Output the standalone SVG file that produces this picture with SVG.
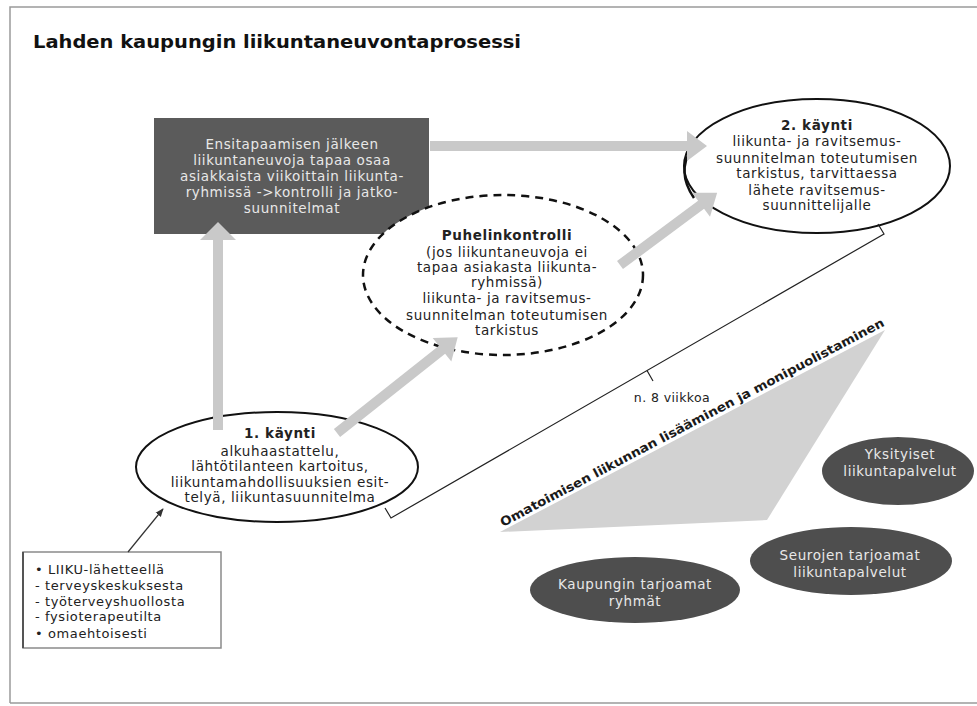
<svg xmlns="http://www.w3.org/2000/svg" width="977" height="706" viewBox="0 0 977 706">
<style>
.t{font-family:"DejaVu Sans",Verdana,sans-serif;font-size:13.5px;fill:#222;text-anchor:middle;letter-spacing:0.6px}
.b{font-weight:bold}
.w{fill:#e8e8e8}
.lft{text-anchor:start;font-size:13px}
.ol{fill:#fff;stroke:#111;stroke-width:2}
.dk{fill:#4e4e4e}
.arr{fill:#c9c9c9}
</style>
<defs>
<marker id="ah" viewBox="0 0 10 10" refX="9" refY="5" markerWidth="7" markerHeight="7" orient="auto"><path d="M0,1 L10,5 L0,9 z" fill="#333"/></marker>
</defs>
<rect x="0" y="0" width="977" height="706" fill="#fff"/>
<path d="M10,703 L10,7 L977,7 M10,703 L977,703" fill="none" stroke="#9a9a9a" stroke-width="1.5"/>
<text x="33" y="48" textLength="488" lengthAdjust="spacingAndGlyphs" style="font-family:'DejaVu Sans',Verdana,sans-serif;font-weight:bold;font-size:18px;fill:#111">Lahden kaupungin liikuntaneuvontaprosessi</text>

<g id="trend">
<polygon points="500,532 885,330 767,520" fill="#d2d2d2"/>
<text x="0" y="0" transform="translate(503,527) rotate(-27.8)" textLength="432" lengthAdjust="spacingAndGlyphs" style="font-family:'DejaVu Sans',Verdana,sans-serif;font-weight:bold;font-size:12.5px;fill:#1a1a1a">Omatoimisen liikunnan lisääminen ja monipuolistaminen</text>
</g>

<g id="box-ensitapaaminen">
<rect x="154" y="118" width="275" height="116" fill="#5b5b5b"/>
<text class="t w" x="292" y="149">Ensitapaamisen jälkeen</text>
<text class="t w" x="292" y="165">liikuntaneuvoja tapaa osaa</text>
<text class="t w" x="292" y="181">asiakkaista viikoittain liikunta-</text>
<text class="t w" x="292" y="197">ryhmissä -&gt;kontrolli ja jatko-</text>
<text class="t w" x="292" y="213">suunnitelmat</text>
</g>

<g id="kaynti2">
<ellipse class="ol" cx="817" cy="166" rx="133" ry="67"/>
<path d="M692,148 Q676,172 694,198" fill="none" stroke="#111" stroke-width="2.5"/>
<text class="t b" x="817" y="130">2. käynti</text>
<text class="t" x="817" y="146">liikunta- ja ravitsemus-</text>
<text class="t" x="817" y="163">suunnitelman toteutumisen</text>
<text class="t" x="817" y="178">tarkistus, tarvittaessa</text>
<text class="t" x="817" y="195">lähete ravitsemus-</text>
<text class="t" x="817" y="210">suunnittelijalle</text>
</g>

<g id="puhelinkontrolli">
<ellipse cx="503" cy="275" rx="140" ry="80" fill="#fff" stroke="#111" stroke-width="2.5" stroke-dasharray="8 6"/>
<text class="t b" x="507" y="240">Puhelinkontrolli</text>
<text class="t" x="507" y="257">(jos liikuntaneuvoja ei</text>
<text class="t" x="507" y="272">tapaa asiakasta liikunta-</text>
<text class="t" x="507" y="287">ryhmissä)</text>
<text class="t" x="507" y="303">liikunta- ja ravitsemus-</text>
<text class="t" x="507" y="320">suunnitelman toteutumisen</text>
<text class="t" x="507" y="335">tarkistus</text>
</g>

<g id="kaynti1">
<ellipse class="ol" cx="277" cy="467" rx="141" ry="55"/>
<text class="t b" x="280" y="438">1. käynti</text>
<text class="t" x="280" y="456">alkuhaastattelu,</text>
<text class="t" x="280" y="471">lähtötilanteen kartoitus,</text>
<text class="t" x="280" y="487">liikuntamahdollisuuksien esit-</text>
<text class="t" x="280" y="502">telyä, liikuntasuunnitelma</text>
</g>

<g id="lahete">
<rect x="23" y="552" width="198" height="96" fill="#fff" stroke="#8a8a8a" stroke-width="1.5"/>
<line x1="23" y1="552" x2="23" y2="648" stroke="#555" stroke-width="2"/>
<text class="t lft" x="35" y="574">• LIIKU-lähetteellä</text>
<text class="t lft" x="35" y="590">- terveyskeskuksesta</text>
<text class="t lft" x="35" y="606">- työterveyshuollosta</text>
<text class="t lft" x="35" y="621">- fysioterapeutilta</text>
<text class="t lft" x="35" y="638">• omaehtoisesti</text>
</g>

<g id="yksityiset">
<ellipse class="dk" cx="898" cy="471" rx="76" ry="34"/>
<text class="t w" x="900" y="459">Yksityiset</text>
<text class="t w" x="900" y="476">liikuntapalvelut</text>
</g>
<g id="seurojen">
<ellipse class="dk" cx="851" cy="561" rx="101" ry="34"/>
<text class="t w" x="850" y="560">Seurojen tarjoamat</text>
<text class="t w" x="850" y="577">liikuntapalvelut</text>
</g>
<g id="kaupungin">
<ellipse class="dk" cx="635" cy="590" rx="105" ry="33"/>
<text class="t w" x="635" y="589">Kaupungin tarjoamat</text>
<text class="t w" x="635" y="606">ryhmät</text>
</g>

<g id="connectors">
<g transform="translate(218,430) rotate(-90)"><polygon class="arr" points="0,-5 190,-5 190,-18 208,0 190,18 190,5 0,5"/></g>
<g transform="translate(430,146)"><polygon class="arr" points="0,-5 257,-5 257,-15 277,0 257,15 257,5 0,5"/></g>
<g transform="translate(337,433) rotate(-38.4)"><polygon class="arr" points="0,-5 134,-5 134,-15 154,0 134,15 134,5 0,5"/></g>
<g transform="translate(620,265) rotate(-36.6)"><polygon class="arr" points="0,-5 101,-5 101,-15 121,0 101,15 101,5 0,5"/></g>
<line x1="128" y1="552" x2="163" y2="509" stroke="#333" stroke-width="1.2" marker-end="url(#ah)"/>
<path d="M385,508 L391,518 L884,234 L878,224 M647,370.5 L653,381" fill="none" stroke="#222" stroke-width="1.2"/>
<text class="t" x="672" y="402" style="font-size:12.5px;letter-spacing:0.4px">n. 8 viikkoa</text>
</g>
</svg>
